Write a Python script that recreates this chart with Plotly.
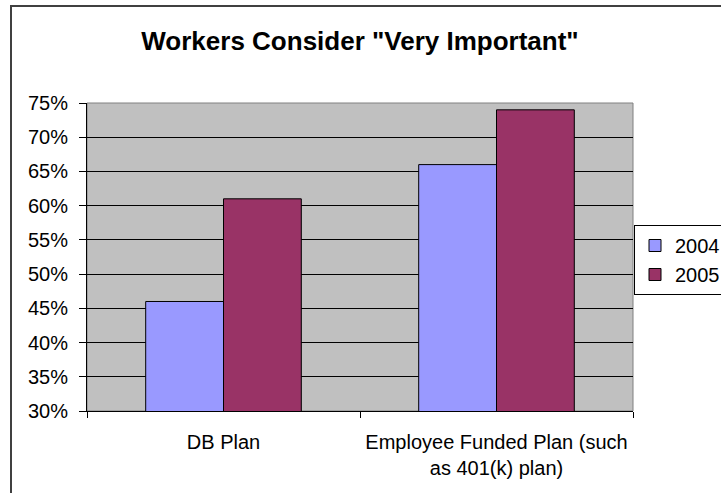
import plotly.graph_objects as go

categories = ["DB Plan", "Employee Funded Plan (such<br>as 401(k) plan)"]
series_names = ["2004", "2005"]
values_2004 = [0.46, 0.66]
values_2005 = [0.61, 0.74]
colors = ["#9999FF", "#993366"]
title_text = 'Workers Consider "Very Important"'

FONT = "Arial, Liberation Sans, sans-serif"

fig = go.Figure()
for name, vals, col in zip(series_names, [values_2004, values_2005], colors):
    fig.add_trace(go.Bar(
        x=categories, y=vals, name=name,
        marker=dict(color=col, line=dict(color="black", width=1)),
    ))

W, H = 721, 493
L, R, T, B = 87, 88, 103, 82
pw, ph = W - L - R, H - T - B

def px_x(x):
    return (x - L) / pw

def px_y(y):
    return (H - B - y) / ph

fig.update_layout(
    width=W, height=H,
    margin=dict(l=L, r=R, t=T, b=B, autoexpand=False),
    paper_bgcolor="white",
    plot_bgcolor="#C0C0C0",
    barmode="group",
    bargap=0.43,
    bargroupgap=0,
    font=dict(family=FONT, size=20, color="black"),
    title=dict(text="<b>" + title_text + "</b>", x=0.5, xanchor="center",
               xref="paper",
               y=1 - 41 / H, yanchor="middle",
               font=dict(family=FONT, size=26, color="black")),
    legend=dict(x=px_x(634), xanchor="left", y=px_y(225), yanchor="top",
                bordercolor="black", borderwidth=1, bgcolor="white",
                font=dict(family=FONT, size=20), itemwidth=30,
                tracegroupgap=4),
    showlegend=True,
)
fig.update_xaxes(
    type="category", tickson="boundaries", ticks="outside", ticklen=6,
    tickcolor="black", showline=True, linecolor="black", linewidth=1,
    showgrid=False, ticklabelstandoff=13, automargin=False,
    tickfont=dict(family=FONT, size=20),
)
fig.update_yaxes(
    range=[0.30, 0.75], dtick=0.05, tick0=0.30, tickformat=".0%",
    ticks="outside", ticklen=7, tickcolor="black",
    showline=True, linecolor="black", linewidth=1,
    showgrid=True, gridcolor="black", gridwidth=1,
    zeroline=False, ticklabelstandoff=7, automargin=False,
    tickfont=dict(family=FONT, size=20),
)
# plot area gray border (top/right)
fig.add_shape(type="rect", xref="paper", yref="paper", x0=0, x1=1, y0=0, y1=1,
              line=dict(color="#808080", width=1), layer="below")
# chart area border (extends beyond image on right/bottom)
fig.add_shape(type="rect", xref="paper", yref="paper",
              x0=px_x(11), x1=px_x(730), y0=px_y(500), y1=px_y(6),
              line=dict(color="#404040", width=2))

fig.write_html(
    "out.html",
    config={"displayModeBar": False},
    post_script="document.body.style.margin='0';document.body.style.overflow='hidden';",
)
